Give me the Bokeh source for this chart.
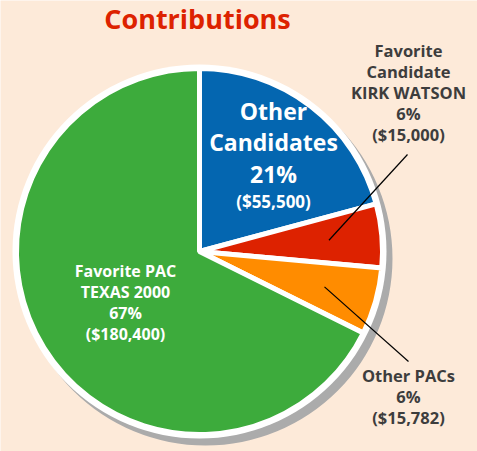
import math
from bokeh.plotting import figure
from bokeh.models import Range1d, ColumnDataSource
from bokeh.core.properties import value
from bokeh.embed import file_html
from bokeh.resources import INLINE

# ---- data ----
categories = ["Other Candidates", "Favorite Candidate KIRK WATSON", "Other PACs", "Favorite PAC TEXAS 2000"]
values = [55500, 15000, 15782, 180400]
percents = ["21%", "6%", "6%", "67%"]
amounts = ["($55,500)", "($15,000)", "($15,782)", "($180,400)"]
name_lines = [["Other", "Candidates"], ["Favorite", "Candidate", "KIRK WATSON"], ["Other PACs"], ["Favorite PAC", "TEXAS 2000"]]
colors = ["#0466b0", "#dd2200", "#ff8c00", "#3dab3c"]

BG = "#fdead9"
W, H = 477, 451
FONT = "Open Sans"

def Y(ry):
    return 451 - ry

p = figure(width=W, height=H, output_backend="svg", toolbar_location=None,
           x_range=Range1d(0, W), y_range=Range1d(0, H),
           min_border=0)
p.axis.visible = False
p.grid.visible = False
p.outline_line_color = None
p.background_fill_color = BG
p.border_fill_color = BG

cx, cy = 199, Y(251)
R = 183

# shadow and white rim
p.circle(x=[cx + 6], y=[cy - 7], radius=R + 4, fill_color="#ababab", line_color=None)
p.circle(x=[cx], y=[cy], radius=R + 4, fill_color="white", line_color=None)

total = sum(values)
starts, ends, mids = [], [], []
cum = 0.0
for v in values:
    a0 = math.pi / 2 - 2 * math.pi * cum / total
    cum += v
    a1 = math.pi / 2 - 2 * math.pi * cum / total
    starts.append(a0)
    ends.append(a1)
    mids.append((a0 + a1) / 2)

src = ColumnDataSource(dict(start=starts, end=ends, color=colors))
p.wedge(x=cx, y=cy, radius=R, start_angle="start", end_angle="end", direction="clock",
        fill_color="color", line_color="white", line_width=5, source=src)

# leader lines for the two small slices
lead_r = 0.71 * R
leader_targets = {1: (407, 154), 2: (408, 361)}
xs0, ys0, xs1, ys1 = [], [], [], []
for i, (tx, ty) in leader_targets.items():
    xs0.append(cx + lead_r * math.cos(mids[i]))
    ys0.append(cy + lead_r * math.sin(mids[i]))
    xs1.append(tx)
    ys1.append(Y(ty))
p.segment(x0=xs0, y0=ys0, x1=xs1, y1=ys1, line_color="black", line_width=1.2)

# labels (ys are visual baselines in page pixels)
def put(lines, x, ys, color, size):
    off = 0.42 * size
    p.text(x=[x] * len(lines), y=[Y(v - off) for v in ys], text=lines,
           text_font=value(FONT), text_font_style="bold",
           text_font_size=f"{size}px", text_color=color,
           text_align="center", text_baseline="alphabetic")

# title
put(["Contributions"], 197, [29], "#dd2200", 27)

# Other Candidates (inside, white)
put(name_lines[0] + [percents[0]], 273, [120, 151, 183], "white", 23)
put([amounts[0]], 273, [208], "white", 17)

# Favorite candidate (outside, dark)
put(name_lines[1] + [percents[1], amounts[1]], 408, [57, 78, 99, 120, 141], "#3d3d3d", 16.5)

# Other PACs (outside, dark)
put(name_lines[2] + [percents[2], amounts[2]], 408, [382, 403, 424], "#3d3d3d", 16.5)

# Favorite PAC (inside, white)
put(name_lines[3] + [percents[3], amounts[3]], 125, [277, 298, 319, 340], "white", 16)

open("out.html", "w").write(file_html(p, INLINE))
